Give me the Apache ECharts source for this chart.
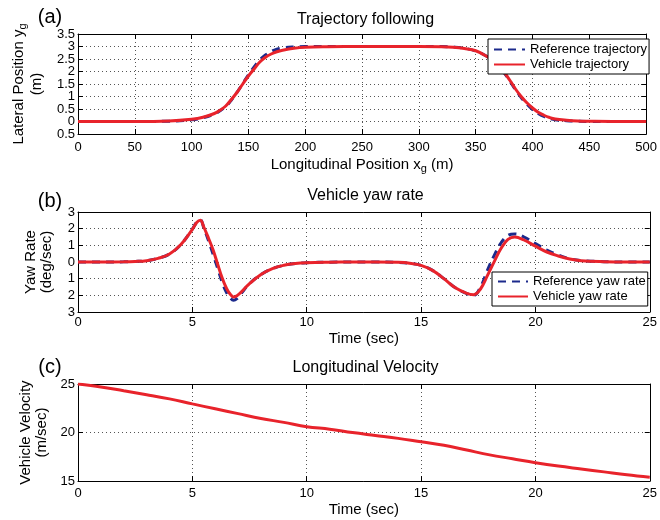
<!DOCTYPE html>
<html>
<head>
<meta charset="utf-8">
<script src="https://cdn.jsdelivr.net/npm/echarts@6/dist/echarts.min.js"></script>
<style>
  html, body { margin: 0; padding: 0; background: #fff; }
  #chart-container { width: 660px; height: 520px; }
</style>
</head>
<body>
<div id="chart-container"></div>
<script>
// (a) trajectory following
const trajX = [0, 50, 80, 100, 110, 120, 125, 130, 135, 140, 145, 150, 155, 160, 165, 170, 175, 180, 190, 200, 220, 250, 300, 320, 330, 340, 350, 360, 365, 370, 375, 380, 385, 390, 395, 400, 405, 410, 415, 420, 430, 440, 450, 470, 500];
const refTraj = [0, 0, 0.01, 0.07, 0.15, 0.3, 0.43, 0.6, 0.86, 1.17, 1.52, 1.87, 2.18, 2.46, 2.66, 2.8, 2.89, 2.94, 2.98, 3.0, 3.0, 3.0, 3.0, 3.0, 2.98, 2.93, 2.82, 2.6, 2.42, 2.2, 1.95, 1.62, 1.27, 0.96, 0.7, 0.48, 0.32, 0.2, 0.12, 0.07, 0.03, 0.01, 0, 0, 0];
const vehTraj = [0, 0, 0.02, 0.09, 0.17, 0.32, 0.45, 0.62, 0.88, 1.17, 1.5, 1.82, 2.1, 2.38, 2.57, 2.7, 2.79, 2.85, 2.93, 2.97, 2.99, 3.0, 3.0, 2.99, 2.97, 2.92, 2.83, 2.6, 2.42, 2.2, 1.97, 1.65, 1.3, 1.0, 0.75, 0.54, 0.37, 0.25, 0.16, 0.1, 0.05, 0.02, 0.01, 0, 0];

// (b) yaw rate
const yawT = [0, 1, 2, 2.5, 3, 3.5, 4, 4.5, 5, 5.2, 5.35, 5.5, 5.7, 5.9, 6.1, 6.3, 6.5, 6.65, 6.8, 6.95, 7.1, 7.5, 8, 8.5, 9, 9.5, 10, 11, 12, 13, 14, 14.5, 15, 15.5, 16, 16.5, 17, 17.3, 17.6, 17.9, 18.2, 18.5, 18.8, 19.1, 19.5, 20, 20.5, 21, 21.5, 22, 23, 24, 25];
const refYaw = [0, 0, 0.01, 0.03, 0.08, 0.22, 0.48, 1.05, 1.98, 2.4, 2.52, 2.05, 1.3, 0.5, -0.35, -1.2, -1.85, -2.15, -2.3, -2.2, -1.95, -1.3, -0.75, -0.4, -0.2, -0.09, -0.04, -0.01, 0, 0, -0.03, -0.08, -0.2, -0.5, -1.0, -1.55, -1.9, -2.0, -1.5, -0.5, 0.4, 1.15, 1.6, 1.68, 1.5, 1.1, 0.72, 0.42, 0.2, 0.09, 0.02, 0, 0];
const vehYaw = [0, 0, 0.01, 0.03, 0.08, 0.22, 0.48, 1.05, 1.96, 2.38, 2.5, 2.1, 1.45, 0.75, -0.1, -0.95, -1.6, -1.92, -2.1, -2.02, -1.85, -1.3, -0.75, -0.4, -0.2, -0.09, -0.04, -0.01, 0, 0, -0.02, -0.07, -0.2, -0.5, -1.0, -1.55, -1.88, -1.96, -1.62, -0.82, 0.02, 0.82, 1.36, 1.5, 1.32, 0.95, 0.6, 0.36, 0.18, 0.08, 0.02, 0, 0];

// (c) longitudinal velocity
const velT = [0, 1, 2, 3, 4, 5, 6, 7, 8, 9, 10, 11, 12, 13, 14, 15, 16, 17, 18, 19, 20, 21, 22, 23, 24, 25];
const vehVel = [25, 24.7, 24.3, 23.9, 23.47, 22.95, 22.45, 21.95, 21.45, 21.05, 20.6, 20.35, 20.0, 19.7, 19.4, 19.05, 18.7, 18.2, 17.7, 17.3, 16.9, 16.55, 16.25, 15.95, 15.65, 15.4];

const FONT = '"Liberation Sans", Arial, Helvetica, sans-serif';
const RED = '#e8232b';
const BLUE = '#1c2a8c';

const chartContainer = document.getElementById('chart-container');
const myChart = echarts.init(chartContainer, null, { renderer: 'canvas' });

const pairs = (xs, ys) => xs.map((x, i) => [x, ys[i]]);

const grids = [
  { left: 78, top: 34, width: 575, height: 100 },
  { left: 78, top: 212, width: 575, height: 100 },
  { left: 78, top: 384, width: 575, height: 100 },
  // overlay of (a), only used for the end labels of its crowded y axis
  { left: 78, top: 34, width: 575, height: 100 }
];

const subRich = { sub: { fontSize: 11, verticalAlign: 'bottom', fontFamily: FONT, color: '#000' } };

function mainAxis(gridIndex, pos, min, max, interval, extra) {
  return Object.assign({
    gridIndex: gridIndex,
    type: 'value',
    position: pos,
    min: min,
    max: max,
    interval: interval,
    axisLine: { show: true, onZero: false, lineStyle: { color: '#000', width: 1 } },
    axisTick: { show: true, inside: true, length: 5, lineStyle: { color: '#000' } },
    splitLine: { show: true, lineStyle: { color: '#555', width: 1, type: [1, 3] } },
    nameLocation: 'middle'
  }, extra || {});
}

function sideAxis(gridIndex, pos, min, max, interval) {
  return {
    gridIndex: gridIndex,
    type: 'value',
    position: pos,
    min: min,
    max: max,
    interval: interval,
    axisLine: { show: true, onZero: false, lineStyle: { color: '#000', width: 1 } },
    axisTick: { show: true, inside: true, length: 5, lineStyle: { color: '#000' } },
    axisLabel: { show: false },
    splitLine: { show: false }
  };
}

function tickLabels(margin, useAbs, ends) {
  return {
    color: '#000', fontSize: 13, fontFamily: FONT, margin: margin,
    showMinLabel: ends !== false, showMaxLabel: ends !== false, hideOverlap: false,
    formatter: v => String(useAbs ? Math.abs(v) : v)
  };
}

const legendBase = {
  orient: 'vertical',
  backgroundColor: '#fff', borderColor: '#000', borderWidth: 1, borderRadius: 0,
  itemGap: 2, itemHeight: 14,
  itemStyle: { opacity: 0 },
  textStyle: { fontSize: 13, color: '#000', fontFamily: FONT }
};

const textStyle = (text, size) => ({
  text: text, font: size + 'px ' + FONT, fill: '#000',
  align: 'center', verticalAlign: 'middle', textAlign: 'center', textVerticalAlign: 'middle'
});

let option = {
  animation: false,
  backgroundColor: '#fff',
  textStyle: { fontFamily: FONT },
  grid: grids,
  xAxis: [
    mainAxis(0, 'bottom', 0, 500, 50, {
      name: 'Longitudinal Position x{sub|g} (m)', nameGap: 20,
      nameTextStyle: { fontSize: 15, color: '#000', fontFamily: FONT, lineHeight: 20, rich: subRich },
      axisLabel: tickLabels(7)
    }),
    mainAxis(1, 'bottom', 0, 25, 5, {
      name: 'Time (sec)', nameGap: 17,
      nameTextStyle: { fontSize: 15, color: '#000', fontFamily: FONT, lineHeight: 18 },
      axisLabel: tickLabels(4)
    }),
    mainAxis(2, 'bottom', 0, 25, 5, {
      name: 'Time (sec)', nameGap: 18,
      nameTextStyle: { fontSize: 15, color: '#000', fontFamily: FONT, lineHeight: 18 },
      axisLabel: tickLabels(6)
    }),
    sideAxis(0, 'top', 0, 500, 50),
    sideAxis(1, 'top', 0, 25, 5),
    sideAxis(2, 'top', 0, 25, 5),
    { gridIndex: 3, type: 'value', min: 0, max: 500, show: false }
  ],
  yAxis: [
    mainAxis(0, 'left', -0.5, 3.5, 0.5, {
      name: 'Lateral Position y{sub|g}\n(m)', nameGap: 31, nameRotate: 90,
      nameTextStyle: { fontSize: 15, color: '#000', fontFamily: FONT, lineHeight: 18, rich: subRich },
      axisLabel: tickLabels(3, true, false)
    }),
    mainAxis(1, 'left', -3, 3, 1, {
      name: 'Yaw Rate\n(deg/sec)', nameGap: 23, nameRotate: 90,
      nameTextStyle: { fontSize: 15, color: '#000', fontFamily: FONT, lineHeight: 16 },
      axisLabel: tickLabels(3, true)
    }),
    mainAxis(2, 'left', 15, 25, 5, {
      name: 'Vehicle Velocity\n(m/sec)', nameGap: 18, nameRotate: 90,
      nameTextStyle: { fontSize: 15, color: '#000', fontFamily: FONT, lineHeight: 16 },
      axisLabel: tickLabels(3)
    }),
    sideAxis(0, 'right', -0.5, 3.5, 0.5),
    sideAxis(1, 'right', -3, 3, 1),
    sideAxis(2, 'right', 15, 25, 5),
    {
      gridIndex: 3, type: 'value', position: 'left', min: -0.5, max: 3.5, interval: 4,
      axisLine: { show: false }, axisTick: { show: false }, splitLine: { show: false },
      axisLabel: tickLabels(3, true)
    }
  ],
  legend: [
    Object.assign({}, legendBase, {
      data: ['Reference trajectory', 'Vehicle trajectory'],
      left: 488, top: 39, padding: [4, 2, 3, 5], itemWidth: 31
    }),
    Object.assign({}, legendBase, {
      data: ['Reference yaw rate', 'Vehicle yaw rate'],
      left: 492, top: 272, padding: [3, 2, 3, 5], itemWidth: 30
    })
  ],
  graphic: [
    { type: 'text', x: 365.5, y: 20, style: textStyle('Trajectory following', 16) },
    { type: 'text', x: 365.5, y: 196, style: textStyle('Vehicle yaw rate', 16) },
    { type: 'text', x: 365.5, y: 368, style: textStyle('Longitudinal Velocity', 16) },
    { type: 'text', x: 50, y: 17, style: textStyle('(a)', 20) },
    { type: 'text', x: 50, y: 201, style: textStyle('(b)', 20) },
    { type: 'text', x: 50, y: 367, style: textStyle('(c)', 20) }
  ],
  series: [
    {
      name: 'Reference trajectory', type: 'line', xAxisIndex: 0, yAxisIndex: 0,
      data: pairs(trajX, refTraj), symbol: 'none', smooth: 0.4,
      lineStyle: { color: BLUE, width: 3, type: [8, 6] }, itemStyle: { color: BLUE }
    },
    {
      name: 'Vehicle trajectory', type: 'line', xAxisIndex: 0, yAxisIndex: 0,
      data: pairs(trajX, vehTraj), symbol: 'none', smooth: 0.4,
      lineStyle: { color: RED, width: 3 }, itemStyle: { color: RED }
    },
    {
      name: 'Reference yaw rate', type: 'line', xAxisIndex: 1, yAxisIndex: 1,
      data: pairs(yawT, refYaw), symbol: 'none', smooth: 0.4,
      lineStyle: { color: BLUE, width: 3, type: [8, 6] }, itemStyle: { color: BLUE }
    },
    {
      name: 'Vehicle yaw rate', type: 'line', xAxisIndex: 1, yAxisIndex: 1,
      data: pairs(yawT, vehYaw), symbol: 'none', smooth: 0.4,
      lineStyle: { color: RED, width: 3 }, itemStyle: { color: RED }
    },
    {
      name: 'Vehicle velocity', type: 'line', xAxisIndex: 2, yAxisIndex: 2,
      data: pairs(velT, vehVel), symbol: 'none', smooth: 0.4,
      lineStyle: { color: RED, width: 3 }, itemStyle: { color: RED }
    }
  ]
};

if (option && typeof option === 'object') {
  myChart.setOption(option);
}
window.addEventListener('resize', myChart.resize);
</script>
</body>
</html>
